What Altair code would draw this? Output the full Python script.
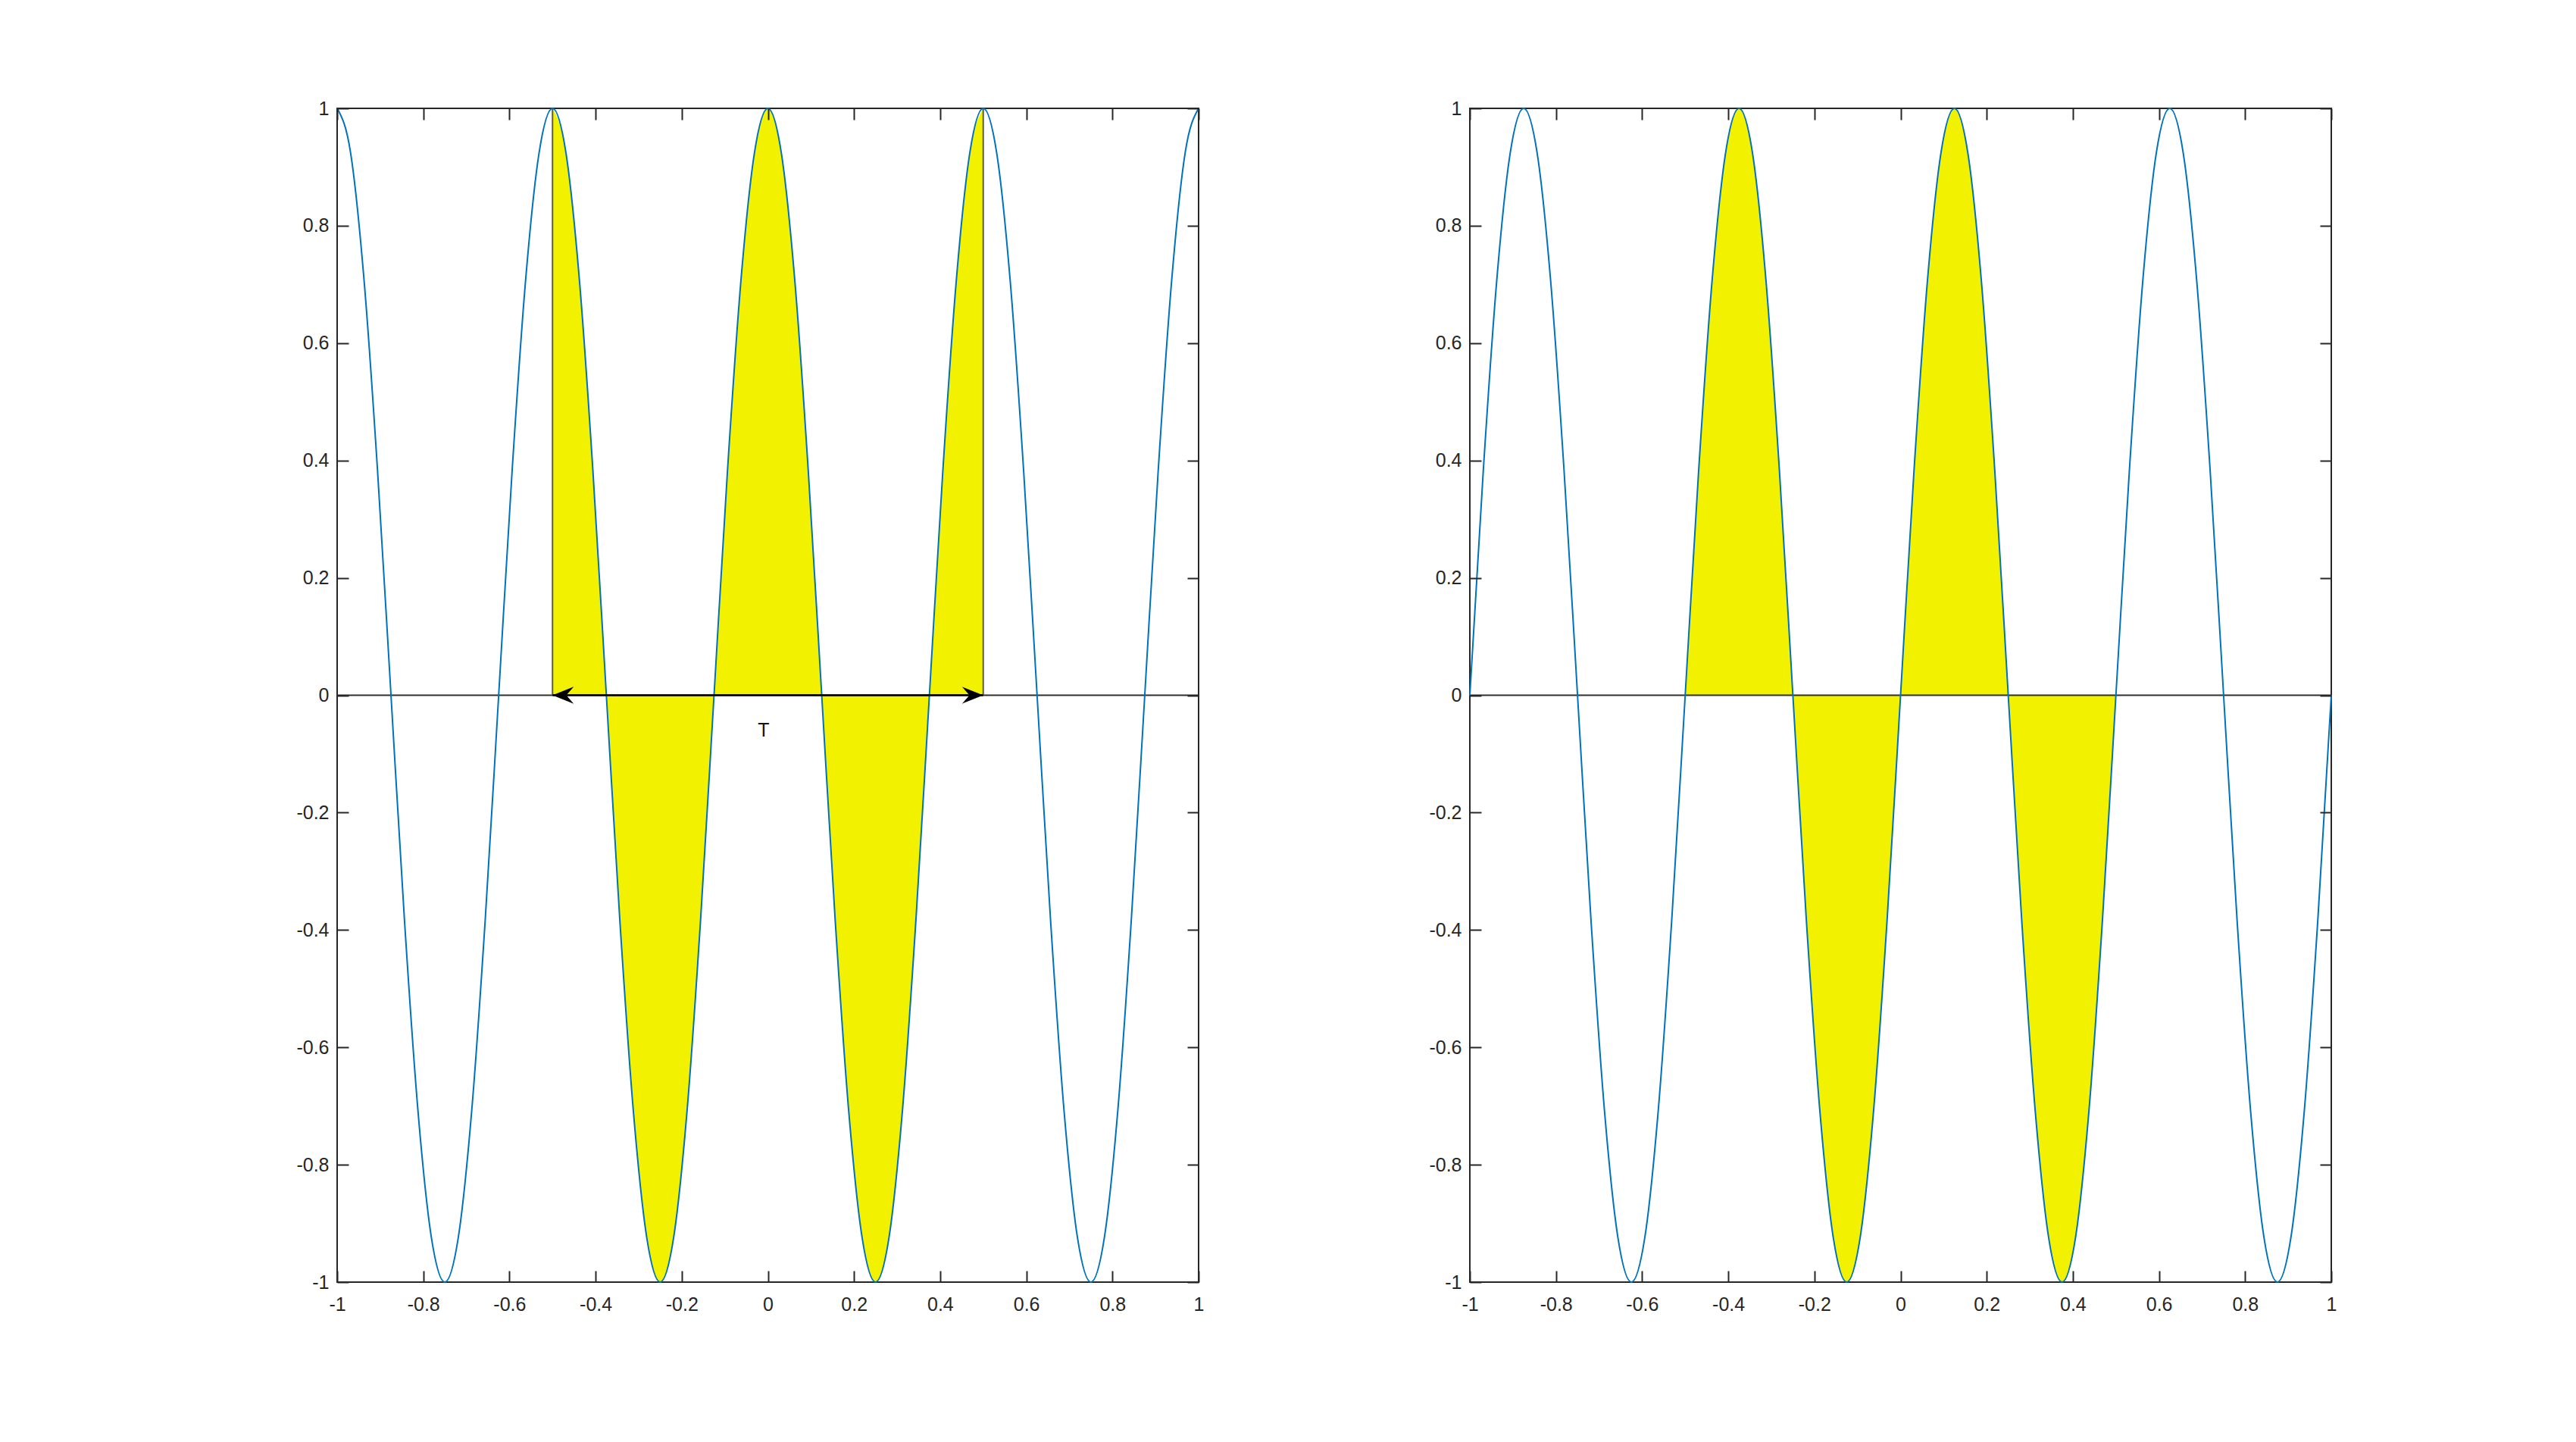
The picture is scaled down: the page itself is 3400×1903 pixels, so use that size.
import altair as alt
import pandas as pd

# sample positions (every 1/32 on [-1, 1])
x_vals = [-1.0, -0.96875, -0.9375, -0.90625, -0.875, -0.84375, -0.8125, -0.78125,
          -0.75, -0.71875, -0.6875, -0.65625, -0.625, -0.59375, -0.5625, -0.53125,
          -0.5, -0.46875, -0.4375, -0.40625, -0.375, -0.34375, -0.3125, -0.28125,
          -0.25, -0.21875, -0.1875, -0.15625, -0.125, -0.09375, -0.0625, -0.03125,
          0.0, 0.03125, 0.0625, 0.09375, 0.125, 0.15625, 0.1875, 0.21875,
          0.25, 0.28125, 0.3125, 0.34375, 0.375, 0.40625, 0.4375, 0.46875,
          0.5, 0.53125, 0.5625, 0.59375, 0.625, 0.65625, 0.6875, 0.71875,
          0.75, 0.78125, 0.8125, 0.84375, 0.875, 0.90625, 0.9375, 0.96875, 1.0]

# left panel curve values read at those positions
left_y = [1, 0.924, 0.707, 0.383, 0, -0.383, -0.707, -0.924,
          -1, -0.924, -0.707, -0.383, 0, 0.383, 0.707, 0.924,
          1, 0.924, 0.707, 0.383, 0, -0.383, -0.707, -0.924,
          -1, -0.924, -0.707, -0.383, 0, 0.383, 0.707, 0.924,
          1, 0.924, 0.707, 0.383, 0, -0.383, -0.707, -0.924,
          -1, -0.924, -0.707, -0.383, 0, 0.383, 0.707, 0.924,
          1, 0.924, 0.707, 0.383, 0, -0.383, -0.707, -0.924,
          -1, -0.924, -0.707, -0.383, 0, 0.383, 0.707, 0.924,
          1]

# right panel curve values read at those positions
right_y = [0, 0.383, 0.707, 0.924, 1, 0.924, 0.707, 0.383,
           0, -0.383, -0.707, -0.924, -1, -0.924, -0.707, -0.383,
           0, 0.383, 0.707, 0.924, 1, 0.924, 0.707, 0.383,
           0, -0.383, -0.707, -0.924, -1, -0.924, -0.707, -0.383,
           0, 0.383, 0.707, 0.924, 1, 0.924, 0.707, 0.383,
           0, -0.383, -0.707, -0.924, -1, -0.924, -0.707, -0.383,
           0, 0.383, 0.707, 0.924, 1, 0.924, 0.707, 0.383,
           0, -0.383, -0.707, -0.924, -1, -0.924, -0.707, -0.383,
           0]

tick_vals = [-1, -0.8, -0.6, -0.4, -0.2, 0, 0.2, 0.4, 0.6, 0.8, 1]
fill_lo, fill_hi = -0.5, 0.5
zero_x = [-1, 1]
zero_y = [0, 0]
arrow_x = [-0.5, 0.5]
arrow_y = [0, 0]
vline_x = [-0.5, 0.5]
vline_top = [1, 1]
T_text = ["T"]
T_x = [-0.01]
T_y = [-0.06]

W, H = 1137, 1549
FONT = "Liberation Sans"
AX = "#262626"
BLUE = "#0072BD"
YELLOW = "#F2F200"
TICK = 15

xs = alt.Scale(domain=[-1, 1], nice=False, zero=False)
ys = alt.Scale(domain=[-1, 1], nice=False, zero=False)


def lab_axis(orient, pad):
    return alt.Axis(orient=orient, values=tick_vals, labelExpr="'' + datum.value",
                    ticks=False, domain=False, grid=False, title=None,
                    labelFont=FONT, labelFontSize=25, labelColor=AX,
                    labelPadding=pad, labelFlush=False, labelOverlap=False, zindex=2)


def tick_axis(orient):
    return alt.Axis(orient=orient, values=tick_vals, labels=False, ticks=True,
                    tickSize=TICK, tickWidth=2, tickColor=AX, domain=False,
                    grid=False, title=None, offset=-TICK, zindex=2)


def panel(y_vals, annotate):
    df = pd.DataFrame({"x": x_vals, "y": y_vals})
    df["base"] = 0.0
    fdf = df[(df.x >= fill_lo) & (df.x <= fill_hi)]
    zdf = pd.DataFrame({"x": zero_x, "y": zero_y})

    area = alt.Chart(fdf).mark_area(color=YELLOW, opacity=1, interpolate="monotone").encode(
        x=alt.X("x:Q", scale=xs, axis=lab_axis("bottom", 17)),
        y=alt.Y("y:Q", scale=ys, axis=lab_axis("left", 11)),
        y2="base:Q",
    )
    zero = alt.Chart(zdf).mark_line(color="#2e2e2e", strokeWidth=2).encode(
        x=alt.X("x:Q", scale=xs, axis=tick_axis("top")),
        y=alt.Y("y:Q", scale=ys, axis=tick_axis("right")),
    )
    curve = alt.Chart(df).mark_line(color=BLUE, strokeWidth=2, interpolate="monotone").encode(
        x=alt.X("x:Q", scale=xs, axis=tick_axis("bottom")),
        y=alt.Y("y:Q", scale=ys, axis=tick_axis("left")),
    )
    layers = [area, zero]
    if annotate:
        vdf = pd.DataFrame({"x": vline_x, "y": [0, 0], "y2": vline_top})
        vl = alt.Chart(vdf).mark_rule(color="#5a5a5a", strokeWidth=2).encode(
            x=alt.X("x:Q", scale=xs, axis=None),
            y=alt.Y("y:Q", scale=ys, axis=None),
            y2="y2:Q",
        )
        layers.append(vl)
    layers.append(curve)
    if annotate:
        adf = pd.DataFrame({"x": arrow_x, "y": arrow_y})
        aline = alt.Chart(adf).mark_line(color="black", strokeWidth=2.5).encode(
            x=alt.X("x:Q", scale=xs, axis=None),
            y=alt.Y("y:Q", scale=ys, axis=None),
        )
        left_head = alt.Chart(adf.iloc[[0]]).mark_point(
            shape="M0,0 L2,-0.8 L1.3,0 L2,0.8 Z", filled=True, size=784,
            color="black", opacity=1, strokeWidth=0).encode(
            x=alt.X("x:Q", scale=xs, axis=None),
            y=alt.Y("y:Q", scale=ys, axis=None),
        )
        right_head = alt.Chart(adf.iloc[[1]]).mark_point(
            shape="M0,0 L-2,-0.8 L-1.3,0 L-2,0.8 Z", filled=True, size=784,
            color="black", opacity=1, strokeWidth=0).encode(
            x=alt.X("x:Q", scale=xs, axis=None),
            y=alt.Y("y:Q", scale=ys, axis=None),
        )
        tdf = pd.DataFrame({"x": T_x, "y": T_y, "t": T_text})
        ttxt = alt.Chart(tdf).mark_text(font=FONT, fontSize=25, color="#111111",
                                        align="center", baseline="middle").encode(
            x=alt.X("x:Q", scale=xs, axis=None),
            y=alt.Y("y:Q", scale=ys, axis=None),
            text="t:N",
        )
        layers += [aline, left_head, right_head, ttxt]
    return alt.layer(*layers).resolve_axis(x="independent", y="independent").properties(
        width=W, height=H)


left = panel(left_y, True)
right = panel(right_y, False)

chart = alt.hconcat(left, right, spacing=294).properties(
    padding={"left": 381, "top": 122, "right": 5, "bottom": 5},
    background="white",
).configure_view(stroke=AX, strokeWidth=2).configure_concat(spacing=294)

chart.save("out.html", embed_options={"renderer": "svg", "actions": False})
